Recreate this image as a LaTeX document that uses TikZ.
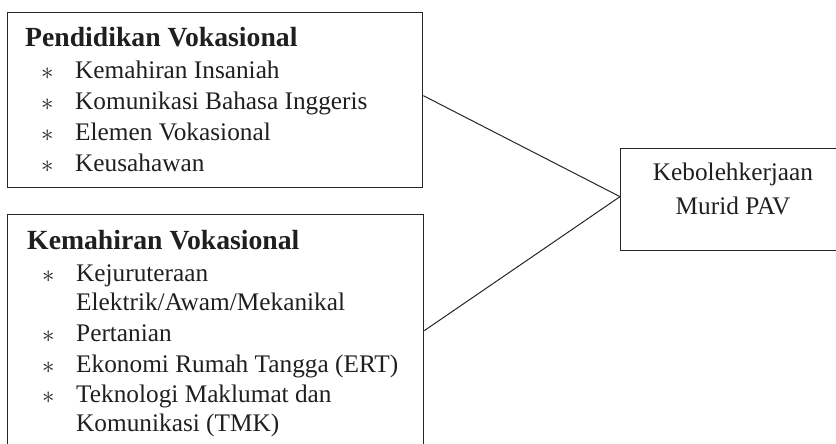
\documentclass[tikz,border=0pt]{standalone}
\usepackage{fontspec}
\setmainfont{Liberation Serif}
\begin{document}
\begin{tikzpicture}[x=1pt,y=-1pt,
  ink/.style={color=black!88},
  frame/.style={draw=black!85,line width=1.3pt,rectangle,inner sep=0pt,anchor=north west},
  link/.style={draw=black!85,line width=1pt},
  head/.style={ink,font=\fontsize{27.7}{30}\selectfont\bfseries,anchor=base west,inner sep=0pt},
  entry/.style={ink,font=\fontsize{25.3}{30}\selectfont,anchor=base west,inner sep=0pt},
  bullet/.style={ink,font=\fontsize{29}{30}\selectfont,anchor=base west,inner sep=0pt},
]
\useasboundingbox (0,0) rectangle (836,444);

% frames
\node[frame,minimum width=415pt,minimum height=175pt] (pv) at (7,12) {};
\node[frame,minimum width=416pt,minimum height=232pt] (kv) at (7,214) {};
\node[frame,minimum width=226pt,minimum height=102pt] (kb) at (620,148) {};

% first frame: Pendidikan Vokasional
\node[head] (pvh) at (25,47) {Pendidikan Vokasional};
\node[bullet] (pb1) at (41,80) {$\ast$};
\node[entry] (pe1) at (75,79) {Kemahiran Insaniah};
\node[bullet] (pb2) at (41,110.5) {$\ast$};
\node[entry] (pe2) at (75,109.5) {Komunikasi Bahasa Inggeris};
\node[bullet] (pb3) at (41,141) {$\ast$};
\node[entry] (pe3) at (75,140) {Elemen Vokasional};
\node[bullet] (pb4) at (41,172) {$\ast$};
\node[entry] (pe4) at (75,171) {Keusahawan};

% second frame: Kemahiran Vokasional
\node[head] (kvh) at (27,249) {Kemahiran Vokasional};
\node[bullet] (kb1) at (42,282) {$\ast$};
\node[entry] (ke1) at (76,281) {Kejuruteraan};
\node[entry] (ke1b) at (76,310) {Elektrik/Awam/Mekanikal};
\node[bullet] (kb2) at (42,342) {$\ast$};
\node[entry] (ke2) at (76,341) {Pertanian};
\node[bullet] (kb3) at (42,373) {$\ast$};
\node[entry] (ke3) at (76,372) {Ekonomi Rumah Tangga (ERT)};
\node[bullet] (kb4) at (42,403) {$\ast$};
\node[entry] (ke4) at (76,402) {Teknologi Maklumat dan};
\node[entry] (ke4b) at (76,431) {Komunikasi (TMK)};

% outcome frame
\node[entry,anchor=base] (kbt1) at (733,180) {Kebolehkerjaan};
\node[entry,anchor=base] (kbt2) at (733,214) {Murid PAV};

% connectors
\draw[link] ([yshift=4.5pt]pv.east) -- ([yshift=3pt]kb.west);
\draw[link] (kv.east) -- ([yshift=3pt]kb.west);
\end{tikzpicture}
\end{document}
